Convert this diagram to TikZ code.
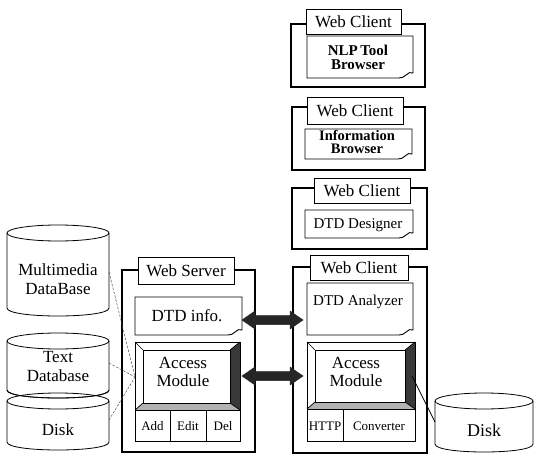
\documentclass[tikz,border=0pt]{standalone}
\usepackage{fontspec}
\setmainfont{Liberation Serif}
\newcommand\fs[1]{\fontsize{#1}{#1}\selectfont}
% document-like box with a curled lower right corner
\newcommand\docshape[5]{%
  \draw[docline] (#2,#3) -- (#4,#3) -- (#4,{#5-5})
    .. controls ({#4-5},{#5-8}) and ({#4-8},{#5+1}) .. ({#4-14},#5)
    -- (#2,#5) -- cycle;
  \coordinate (#1) at ({(#2+#4)/2},{(#3+#5)/2});
}
% bevelled button: x0, y0, x1, y1
\newcommand\bevelbox[4]{%
  \draw[thin line] (#1,#2) rectangle (#3,#4);
  \fill[black!78] (#3,#2) -- (#3,#4) -- ({#3-10},{#4-7}) -- ({#3-10},{#2+8}) -- cycle;
  \fill[black!30] (#1,#4) -- (#3,#4) -- ({#3-10},{#4-7}) -- ({#1+8},{#4-7}) -- cycle;
  \draw[thin line] (#1,#2) -- ({#1+8},{#2+8}) (#3,#2) -- ({#3-10},{#2+8})
    (#1,#4) -- ({#1+8},{#4-7}) (#3,#4) -- ({#3-10},{#4-7});
  \draw[thin line] ({#1+8},{#2+8}) rectangle ({#3-10},{#4-7});
  \draw[thin line] (#1,#2) rectangle (#3,#4);
}
% upright cylinder: x0, x1, top, bottom
\newcommand\cyl[4]{%
  \draw[cylline, fill=white] (#1,{#3+8}) -- (#1,{#4-8})
    .. controls (#1,{#4+2.67}) and (#2,{#4+2.67}) .. (#2,{#4-8}) -- (#2,{#3+8});
  \draw[cylline] ({(#1+#2)/2},{#3+8}) ellipse [x radius={(#2-#1)/2}, y radius=8];
}
\tikzset{
  grp/.style={draw, line width=1.9pt},
  ttl/.style={draw, line width=0.8pt, fill=white, font=\fs{17}, inner sep=0pt},
  docline/.style={draw, line width=0.9pt, fill=white},
  thin line/.style={line width=0.7pt},
  cylline/.style={line width=0.8pt},
  lbl/.style={inner sep=0pt, align=center},
  dashline/.style={line width=0.5pt, black!70, dash pattern=on 2.5pt off 1.5pt},
  blockarrow/.style={fill=black!85, draw=black!85, line width=0.5pt, line join=round},
}
\begin{document}
\begin{tikzpicture}[x=1pt, y=-1pt]
\useasboundingbox (0,0) rectangle (535,457);

% ---------- NLP tool client ----------
\draw[grp] (291,24) rectangle (425,87);
\node[ttl, minimum width=95, minimum height=25] (t1) at (353.5,21.5) {Web Client};
\docshape{d1}{307}{36}{413}{78}
\node[lbl, font=\bfseries\fs{15}] (nlp) at (358,57) {NLP\,Tool\\[-1pt]Browser};

% ---------- information client ----------
\draw[grp] (292,107) rectangle (425,170);
\node[ttl, minimum width=96, minimum height=27] (t2) at (355,110.5) {Web Client};
\docshape{d2}{305}{129}{412}{159}
\node[lbl, font=\bfseries\fs{14.5}] (info) at (357,142) {Information\\[-1pt]Browser};

% ---------- designer client ----------
\draw[grp] (292,188) rectangle (427,249);
\node[ttl, minimum width=96, minimum height=25] (t3) at (362,190.5) {Web Client};
\docshape{d3}{305}{210}{413}{238}
\node[lbl, font=\fs{15}] (des) at (358,225) {DTD Designer};

% ---------- analyzer client ----------
\draw[grp] (293,267) rectangle (427,453);
\node[ttl, minimum width=98, minimum height=25] (t4) at (359,267.5) {Web Client};
\docshape{d4}{307}{283}{413}{335}
\node[lbl, font=\fs{15}] (ana) at (358,302) {DTD Analyzer};
\bevelbox{307}{342}{415}{409}
\node[lbl, font=\fs{17}] (cacc) at (356,372) {Access\\[1pt]Module};
\draw[thin line] (307,409) rectangle (415,441);
\draw[thin line] (343,409) -- (343,441);
\node[lbl, font=\fs{13}] (http) at (325,426) {HTTP};
\node[lbl, font=\fs{13}] (conv) at (379,426) {Converter};

% ---------- web server ----------
\draw[grp] (122,270) rectangle (255,452);
\node[ttl, minimum width=96, minimum height=27] (t5) at (186,270.5) {Web Server};
\docshape{d5}{135}{297}{242}{335}
\node[lbl, font=\fs{17}] (dtdi) at (187,316) {DTD info.};
\bevelbox{135}{342}{240}{410}
\node[lbl, font=\fs{17}] (sacc) at (183,372) {Access\\[1pt]Module};
\draw[thin line] (135,410) rectangle (240,441);
\draw[thin line] (170,410) -- (170,441) (206,410) -- (206,441);
\node[lbl, font=\fs{13}] (add) at (152.5,426) {Add};
\node[lbl, font=\fs{13}] (edit) at (188,426) {Edit};
\node[lbl, font=\fs{13}] (del) at (223,426) {Del};

% ---------- storage ----------
\cyl{7}{109}{225}{316}
\node[lbl, font=\fs{17}] (mm) at (58,279) {Multimedia\\[2pt]DataBase};
\cyl{7}{109}{333}{398}
\cyl{7}{109}{393}{450}
\draw[cylline] (7,390) .. controls (7,400.67) and (109,400.67) .. (109,390);
\node[lbl, font=\fs{17}] (txt) at (58,367) {Text\\[2pt]Database};
\node[lbl, font=\fs{17}] (ldisk) at (58,430) {Disk};
\cyl{435}{533}{393}{452}
\node[lbl, font=\fs{18}] (rdisk) at (484,430) {Disk};

% ---------- connections ----------
\coordinate (mmR) at (109,272);
\coordinate (txtR) at (109,363);
\coordinate (dskR) at (109,420);
\coordinate (saccL) at (135,377);
\draw[dashline] (mmR) -- (saccL);
\draw[dashline] (txtR) -- (saccL);
\draw[dashline] (dskR) -- (saccL);
\coordinate (caccR) at (412,376);
\coordinate (rdiskL) at (435,422);
\draw[thin line] (caccR) -- (rdiskL);

% block arrows between server and client
\coordinate (dtdiR) at (242,320);
\coordinate (saccR) at (242,376);
\draw[blockarrow] (dtdiR) -- ++(13,-9) -- ++(0,4.5) -- ++(35,0) -- ++(0,-4.5)
  -- ++(13,9) -- ++(-13,9) -- ++(0,-4.5) -- ++(-35,0) -- ++(0,4.5) -- cycle;
\draw[blockarrow] (saccR) -- ++(13,-9) -- ++(0,4.5) -- ++(35,0) -- ++(0,-4.5)
  -- ++(13,9) -- ++(-13,9) -- ++(0,-4.5) -- ++(-35,0) -- ++(0,4.5) -- cycle;
\end{tikzpicture}
\end{document}
